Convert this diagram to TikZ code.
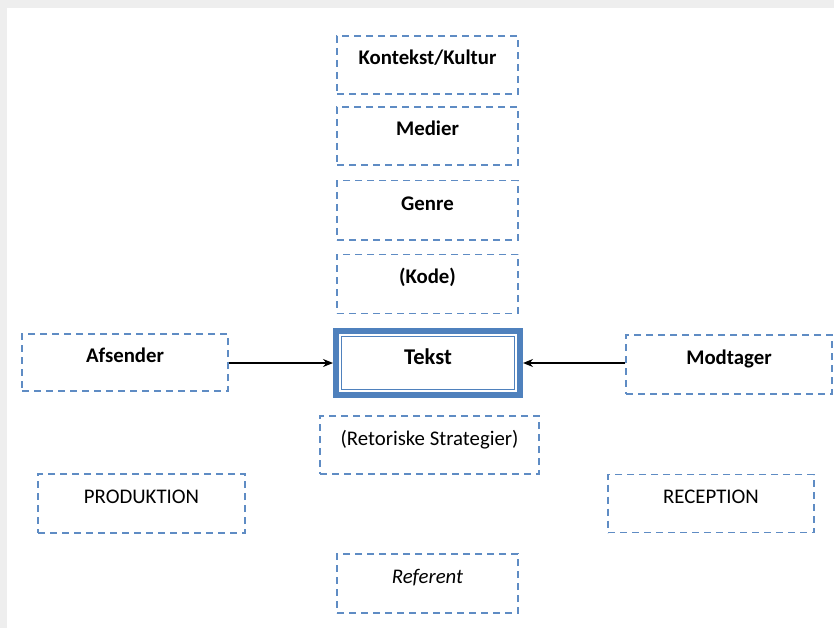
\documentclass[tikz,border=0pt]{standalone}
\usepackage{fontspec}
\setmainfont{Carlito}
\usetikzlibrary{arrows.meta}
\definecolor{boxblue}{HTML}{4F81BD}
\definecolor{dashblue}{HTML}{5F8CC4}
\definecolor{bggray}{HTML}{EEEEEE}
\tikzset{
  dbox/.style={draw=dashblue, line width=1.4pt, dash pattern=on 7pt off 5pt,
    rectangle, inner sep=0pt, text height=0pt, text depth=0pt,
    font=\bfseries\fontsize{20.8}{24}\selectfont},
  plainbox/.style={dbox, font=\fontsize{20.8}{24}\selectfont},
  italbox/.style={dbox, font=\itshape\fontsize{20.8}{24}\selectfont},
  tekstbox/.style={draw=boxblue, line width=6pt, rectangle, inner sep=0pt,
    text height=3pt, text depth=0pt, font=\bfseries\fontsize{22.5}{26}\selectfont},
  conn/.style={-{Stealth[length=10pt,width=8pt]}, line width=1.3pt, black}
}
\begin{document}
\begin{tikzpicture}[x=1pt,y=-1pt]
\useasboundingbox (0,0) rectangle (834,628);
\fill[bggray] (0,0) rectangle (834,628);
\fill[white] (7,8) rectangle (850,650);
\node[dbox, minimum width=181pt, minimum height=58pt] (kontekst) at (427.5,65) {Kontekst/Kultur};
\node[dbox, minimum width=181pt, minimum height=58pt] (medier) at (427.5,136) {Medier};
\node[dbox, minimum width=181pt, minimum height=59pt] (genre) at (427.5,210.3) {Genre};
\node[dbox, minimum width=181pt, minimum height=59pt] (kode) at (427.5,283.7) {(Kode)};
\node[tekstbox, minimum width=184pt, minimum height=64pt] (tekst) at (428,363) {Tekst};
\draw[boxblue, line width=1pt] ([shift={(8.5,8.5)}]tekst.north west) rectangle ([shift={(-8.5,-8.5)}]tekst.south east);
\node[dbox, minimum width=206pt, minimum height=57pt] (afsender) at (125,362.5) {Afsender};
\node[dbox, minimum width=206pt, minimum height=59pt] (modtager) at (729,364.5) {Modtager};
\node[plainbox, minimum width=219pt, minimum height=58pt] (retor) at (429.5,445) {(Retoriske Strategier)};
\node[plainbox, minimum width=207pt, minimum height=59pt] (produk) at (141.5,503.5) {PRODUKTION};
\node[plainbox, minimum width=206pt, minimum height=58pt] (recep) at (711,503.5) {RECEPTION};
\node[italbox, minimum width=181pt, minimum height=59pt] (referent) at (427.5,583.5) {Referent};
\draw[conn] (afsender.east |- tekst.west) -- (tekst.west);
\draw[conn] (modtager.west |- tekst.east) -- (tekst.east);
\end{tikzpicture}
\end{document}
